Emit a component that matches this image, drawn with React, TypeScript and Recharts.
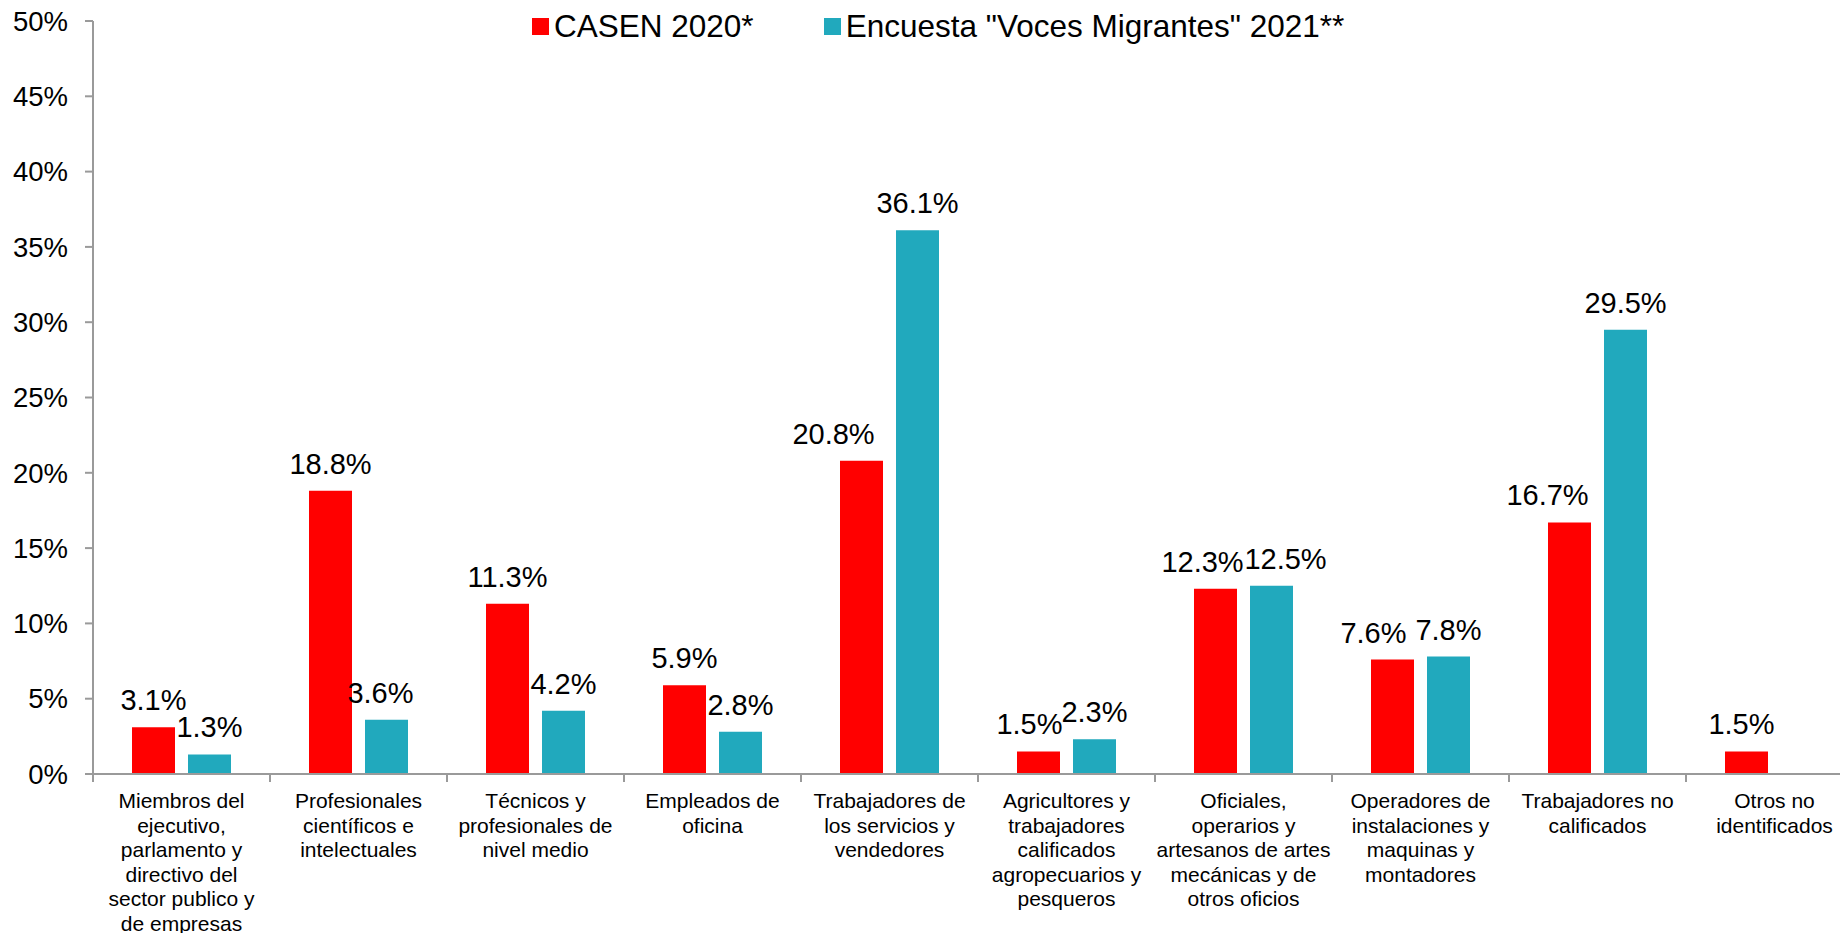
import React from 'react';
import { BarChart, Bar, XAxis, YAxis, LabelList, Legend } from 'recharts';

const categories: string[] = [
  'Miembros del\nejecutivo,\nparlamento y\ndirectivo del\nsector publico y\nde empresas',
  'Profesionales\ncientíficos e\nintelectuales',
  'Técnicos y\nprofesionales de\nnivel medio',
  'Empleados de\noficina',
  'Trabajadores de\nlos servicios y\nvendedores',
  'Agricultores y\ntrabajadores\ncalificados\nagropecuarios y\npesqueros',
  'Oficiales,\noperarios y\nartesanos de artes\nmecánicas y de\notros oficios',
  'Operadores de\ninstalaciones y\nmaquinas y\nmontadores',
  'Trabajadores no\ncalificados',
  'Otros no\nidentificados',
];

const casen2020: number[] = [3.1, 18.8, 11.3, 5.9, 20.8, 1.5, 12.3, 7.6, 16.7, 1.5];
const vocesMigrantes2021: (number | null)[] = [1.3, 3.6, 4.2, 2.8, 36.1, 2.3, 12.5, 7.8, 29.5, null];

const seriesNames = ['CASEN 2020*', 'Encuesta "Voces Migrantes" 2021**'];
const seriesColors = ['#FF0000', '#21A9BD'];
const yTicks: number[] = [0, 5, 10, 15, 20, 25, 30, 35, 40, 45, 50];

// horizontal nudges (px) of the data labels, as placed in the original to avoid collisions
const casenLabelNudge: number[] = [0, 0, 0, 0, -28, -9, -13, -19, -22, -5];
const vocesLabelNudge: number[] = [0, -6, 0, 0, 0, 0, 14, 0, 0, 0];

const data = categories.map((name, i) => ({
  name,
  casen: casen2020[i],
  voces: vocesMigrantes2021[i],
}));

const CHART_W = 1863;
const CHART_H = 933;
const Y_AXIS_W = 93;
const MARGIN = { top: 21, right: 0, bottom: 0, left: 0 };
const X_AXIS_H = 159;
const BAND = (CHART_W - Y_AXIS_W - MARGIN.right - MARGIN.left) / categories.length;
const AXIS_COLOR = '#9a9a9a';
const FONT = "'Liberation Sans', Arial, sans-serif";

const CategoryTick = (props: any) => {
  const { x, y, payload } = props;
  const lines = String(payload.value).split('\n');
  const left = x - BAND / 2;
  return (
    <g>
      <line x1={left} x2={left} y1={y} y2={y + 8} stroke={AXIS_COLOR} strokeWidth={2} />
      <text x={x} y={y} textAnchor="middle" fontSize={21} fill="#000" fontFamily={FONT}>
        {lines.map((ln, i) => (
          <tspan key={i} x={x} dy={i === 0 ? 34 : 24.6}>
            {ln}
          </tspan>
        ))}
      </text>
    </g>
  );
};

const renderLegend = (props: any) => {
  const payload = props.payload || [];
  return (
    <div
      style={{
        display: 'flex',
        alignItems: 'center',
        paddingLeft: 532,
        marginTop: 11,
        height: 31,
        fontFamily: FONT,
      }}
    >
      {payload.map((entry: any, i: number) => (
        <div key={i} style={{ display: 'flex', alignItems: 'center', marginRight: 70 }}>
          <span
            style={{
              display: 'inline-block',
              width: 17,
              height: 17,
              background: entry.color,
              marginRight: 5,
            }}
          />
          <span style={{ fontSize: 31.5, lineHeight: '31px', color: '#000', whiteSpace: 'pre' }}>
            {entry.value}
          </span>
        </div>
      ))}
    </div>
  );
};

const fmt = (v: any) => (v === null || v === undefined ? '' : `${Number(v).toFixed(1)}%`);

const makeLabel = (nudges: number[]) => (props: any) => {
  const { x, y, width, value, index } = props;
  if (value === null || value === undefined) return null;
  const dx = nudges[index ?? 0] ?? 0;
  return (
    <text
      x={Number(x) + Number(width) / 2 + dx}
      y={Number(y) - 17}
      textAnchor="middle"
      fontSize={29}
      fill="#000"
      fontFamily={FONT}
    >
      {fmt(value)}
    </text>
  );
};

export default function App() {
  return (
    <div
      style={{
        position: 'absolute',
        left: 0,
        top: 0,
        width: 1840,
        height: 933,
        overflow: 'hidden',
        background: '#fff',
        fontFamily: FONT,
      }}
    >
      <BarChart
        width={CHART_W}
        height={CHART_H}
        data={data}
        margin={MARGIN}
        barSize={43}
        barGap={13}
        style={{ fontFamily: FONT }}
      >
        <XAxis
          dataKey="name"
          interval={0}
          height={X_AXIS_H}
          tickLine={false}
          tickSize={0}
          tickMargin={0}
          axisLine={{ stroke: AXIS_COLOR, strokeWidth: 2 }}
          tick={<CategoryTick />}
        />
        <YAxis
          width={Y_AXIS_W}
          domain={[0, 50]}
          ticks={yTicks}
          interval={0}
          tickFormatter={(v: number) => `${v}%`}
          tickSize={8}
          tickMargin={17}
          axisLine={{ stroke: AXIS_COLOR, strokeWidth: 2 }}
          tickLine={{ stroke: AXIS_COLOR, strokeWidth: 2 }}
          tick={{ fontSize: 27.5, fill: '#000', fontFamily: FONT }}
        />
        <Legend
          layout="horizontal"
          verticalAlign="middle"
          align="center"
          wrapperStyle={{ top: 0, left: 0, width: 1840, height: 50 }}
          content={renderLegend}
        />
        <Bar dataKey="casen" name={seriesNames[0]} fill={seriesColors[0]} isAnimationActive={false}>
          <LabelList dataKey="casen" content={makeLabel(casenLabelNudge)} />
        </Bar>
        <Bar dataKey="voces" name={seriesNames[1]} fill={seriesColors[1]} isAnimationActive={false}>
          <LabelList dataKey="voces" content={makeLabel(vocesLabelNudge)} />
        </Bar>
      </BarChart>
    </div>
  );
}
